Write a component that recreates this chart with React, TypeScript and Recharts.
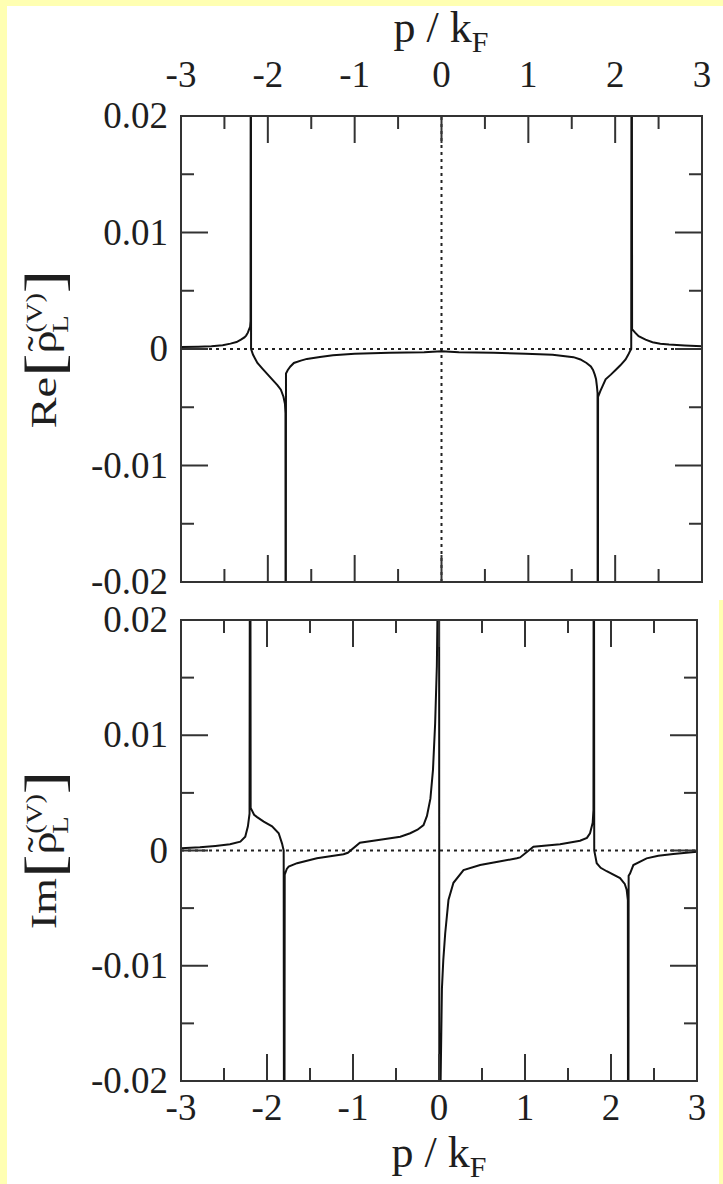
import React from 'react';
import { LineChart, Line, XAxis, YAxis, ReferenceLine } from 'recharts';

// upper panel: Re part, p / kF against value
const reP = [
  -3, -2.8, -2.65, -2.52, -2.43, -2.36, -2.31, -2.27, -2.25, -2.23, -2.215, -2.204, -2.199, -2.196,
  -2.193, -2.17, -2.12, -2.06, -2.0, -1.94, -1.89, -1.85, -1.82, -1.803, -1.797, -1.794,
  -1.791, -1.77, -1.74, -1.7, -1.62, -1.55, -1.4, -1.25, -1.0, -0.6, -0.2, 0, 0.2, 0.6, 0.97, 1.28,
  1.52, 1.6, 1.67, 1.72, 1.745, 1.765, 1.78, 1.79, 1.797, 1.8,
  1.803, 1.83, 1.86, 1.89, 1.95, 2.005, 2.06, 2.12, 2.15, 2.17, 2.185, 2.19,
  2.195, 2.23, 2.27, 2.35, 2.43, 2.52, 2.62, 2.8, 3,
];
const reV = [
  0.00018, 0.0002, 0.00023, 0.00032, 0.00046, 0.0006, 0.0008, 0.001, 0.00115, 0.0014, 0.0017, 0.0019, 0.0024, 0.05,
  0, -0.0005, -0.0012, -0.0017, -0.0022, -0.0027, -0.0031, -0.0035, -0.0041, -0.0047, -0.0055, -0.05,
  -0.0021, -0.0018, -0.0015, -0.0012, -0.001, -0.00085, -0.00068, -0.00054, -0.0004, -0.00032, -0.00028, -0.0002, -0.00028, -0.00032, -0.0004, -0.0005,
  -0.0007, -0.0009, -0.0012, -0.0015, -0.0018, -0.0022, -0.0026, -0.0032, -0.0038, -0.05,
  -0.0041, -0.0036, -0.0031, -0.0026, -0.0022, -0.0018, -0.0014, -0.0009, -0.0005, -0.0002, 0, 0.05,
  0.0017, 0.0014, 0.0011, 0.0008, 0.00058, 0.00045, 0.00038, 0.0003, 0.00023,
];

// lower panel: Im part
const imP = [
  -3, -2.78, -2.6, -2.43, -2.31, -2.253, -2.222, -2.203, -2.196,
  -2.19, -2.15, -2.115, -2.038, -1.941, -1.864, -1.825, -1.806, -1.8,
  -1.794, -1.77, -1.748, -1.65, -1.42, -1.11, -1.06, -0.92, -0.645, -0.45, -0.335, -0.25, -0.18,
  -0.14, -0.1, -0.07, -0.045, -0.025, -0.012, 0,
  0.005, 0.015, 0.034, 0.05, 0.072, 0.11, 0.168, 0.285, 0.478, 0.7, 0.905, 0.943, 1.098, 1.408,
  1.64, 1.72, 1.756, 1.787, 1.796, 1.8,
  1.805, 1.834, 1.88, 1.95, 2.105, 2.16, 2.182, 2.196, 2.2,
  2.205, 2.221, 2.26, 2.414, 2.55, 2.724, 3,
];
const imV = [
  0.0002, 0.00028, 0.0004, 0.00054, 0.00077, 0.0012, 0.0021, 0.0032, 0.05,
  0.0037, 0.0031, 0.0029, 0.0025, 0.0021, 0.0015, 0.0006, 0, -0.05,
  -0.0021, -0.0016, -0.0014, -0.0011, -0.00068, -0.00033, -0.0002, 0.00068, 0.00097, 0.0012, 0.0015, 0.0018, 0.0022,
  0.003, 0.0045, 0.007, 0.011, 0.016, 0.024, 0.06,
  -0.06, -0.022, -0.012, -0.0095, -0.0072, -0.0043, -0.0028, -0.0017, -0.00126, -0.00095, -0.00068, -0.0006, 0.00033, 0.00054,
  0.00085, 0.0011, 0.0015, 0.0024, 0.0035, 0.05,
  0, -0.0011, -0.0015, -0.0018, -0.0024, -0.0029, -0.0034, -0.0043, -0.05,
  -0.0022, -0.002, -0.00126, -0.00068, -0.00045, -0.0003, -0.0001,
];

const xMajor = [-3, -2, -1, 0, 1, 2, 3];
const xMinor = [-2.5, -1.5, -0.5, 0.5, 1.5, 2.5];
const yMajor = [-0.02, -0.01, 0, 0.01, 0.02];
const yMinor = [-0.015, -0.005, 0.005, 0.015];

const xTicks = [...xMajor, ...xMinor].sort((a, b) => a - b);
const yTicks = [...yMajor, ...yMinor].sort((a, b) => a - b);

const reData = reP.map((p, i) => ({ p, v: reV[i] }));
const imData = imP.map((p, i) => ({ p, v: imV[i] }));

const FONT = 'Liberation Serif, Times New Roman, serif';
const INK = '#1e1e1e';
const frame = { stroke: '#333', strokeWidth: 2, strokeLinecap: 'square' as const };

type Side = 'top' | 'bottom' | 'left' | 'right';

// inward tick marks (major/minor) plus optional outside label
const makeTick = (side: Side, labelled: boolean) => (props: any) => {
  const { x, y, payload } = props;
  const v: number = payload.value;
  const horiz = side === 'top' || side === 'bottom';
  const major = (horiz ? xMajor : yMajor).some((m) => Math.abs(m - v) < 1e-9);
  const len = major ? 27 : 13;
  let x2 = x;
  let y2 = y;
  if (side === 'bottom') y2 = y - len;
  if (side === 'top') y2 = y + len;
  if (side === 'left') x2 = x + len;
  if (side === 'right') x2 = x - len;

  let label = null;
  if (labelled && major) {
    const common = { fontFamily: FONT, fontSize: 37, fill: INK };
    if (side === 'bottom') label = <text x={x} y={y + 39} textAnchor="middle" {...common}>{String(v)}</text>;
    if (side === 'top') label = <text x={x} y={y - 29} textAnchor="middle" {...common}>{String(v)}</text>;
    if (side === 'left') label = <text x={x - 13} y={y + 12} textAnchor="end" {...common}>{String(v)}</text>;
  }
  return (
    <g>
      <line x1={x} y1={y} x2={x2} y2={y2} stroke="#333" strokeWidth={2} />
      {label}
    </g>
  );
};

const XTitle = ({ x, y }: { x: number; y: number }) => (
  <text x={x} y={y} textAnchor="middle" fontFamily={FONT} fontSize={44} fill={INK}>
    p / k<tspan fontSize={30} dy={10}>F</tspan>
  </text>
);

// Re[ rho~ _L ^(V) ] written along the left edge
const YTitle = ({ cx, cy, head }: { cx: number; cy: number; head: string }) => (
  <text
    transform={`translate(${cx},${cy}) rotate(-90) scale(1.1,0.85)`}
    textAnchor="middle"
    fontFamily={FONT}
    fontSize={42}
    fill={INK}
  >
    {head}
    <tspan fontSize={64} dy={8}>[</tspan>
    <tspan fontSize={42} dy={-8}>{'\u03c1'}</tspan>
    <tspan fontSize={42} dx={-19} dy={-4}>{'\u02dc'}</tspan>
    <tspan fontSize={26} dx={3} dy={-13}>(V)</tspan>
    <tspan fontSize={26} dx={-36} dy={31}>L</tspan>
    <tspan fontSize={64} dx={20} dy={-6}>]</tspan>
  </text>
);

interface PanelProps {
  data: { p: number; v: number }[];
  height: number;
  margin: { top: number; right: number; bottom: number; left: number };
  topLabels: boolean;
  bottomLabels: boolean;
  zeroX: boolean;
  xTitle: { x: number; y: number };
  yTitle: { cx: number; cy: number; head: string };
}

const Panel = ({ data, height, margin, topLabels, bottomLabels, zeroX, xTitle, yTitle }: PanelProps) => (
  <LineChart width={723} height={height} data={data} margin={margin} style={{ overflow: 'visible' }}>
    <XAxis
      xAxisId="b"
      dataKey="p"
      type="number"
      domain={[-3, 3]}
      allowDataOverflow
      orientation="bottom"
      mirror
      ticks={xTicks}
      interval={0}
      tickSize={0}
      tickMargin={0}
      tickLine={false}
      axisLine={frame}
      tick={makeTick('bottom', bottomLabels)}
      label={bottomLabels ? () => <XTitle {...xTitle} /> : undefined}
    />
    <XAxis
      xAxisId="t"
      dataKey="p"
      type="number"
      domain={[-3, 3]}
      allowDataOverflow
      orientation="top"
      mirror
      ticks={xTicks}
      interval={0}
      tickSize={0}
      tickMargin={0}
      tickLine={false}
      axisLine={frame}
      tick={makeTick('top', topLabels)}
      label={topLabels ? () => <XTitle {...xTitle} /> : undefined}
    />
    <YAxis
      yAxisId="l"
      type="number"
      domain={[-0.02, 0.02]}
      allowDataOverflow
      orientation="left"
      mirror
      ticks={yTicks}
      interval={0}
      tickSize={0}
      tickMargin={0}
      tickLine={false}
      axisLine={frame}
      tick={makeTick('left', true)}
      label={() => <YTitle {...yTitle} />}
    />
    <YAxis
      yAxisId="r"
      type="number"
      domain={[-0.02, 0.02]}
      allowDataOverflow
      orientation="right"
      mirror
      ticks={yTicks}
      interval={0}
      tickSize={0}
      tickMargin={0}
      tickLine={false}
      axisLine={frame}
      tick={makeTick('right', false)}
    />
    <ReferenceLine xAxisId="b" yAxisId="l" y={0} stroke="#222" strokeWidth={2} strokeDasharray="3 4" />
    {zeroX && (
      <ReferenceLine xAxisId="b" yAxisId="l" x={0} stroke="#222" strokeWidth={2} strokeDasharray="3 4" />
    )}
    <Line
      xAxisId="b"
      yAxisId="l"
      dataKey="v"
      type="linear"
      stroke="#111"
      strokeWidth={2}
      dot={false}
      isAnimationActive={false}
    />
  </LineChart>
);

export default function App() {
  return (
    <div style={{ position: 'absolute', left: 0, top: 0, width: 723, height: 1184, background: '#FFFFB2', overflow: 'hidden' }}>
      <div style={{ position: 'absolute', left: 7, top: 6, width: 716, height: 594, background: '#fff' }} />
      <div style={{ position: 'absolute', left: 7, top: 600, width: 712, height: 584, background: '#fff' }} />
      <div style={{ position: 'absolute', left: 0, top: 600 }}>
        <Panel
          data={imData}
          height={584}
          margin={{ top: 20, right: 26, bottom: 103, left: 181 }}
          topLabels={false}
          bottomLabels
          zeroX={false}
          xTitle={{ x: 439, y: 567 }}
          yTitle={{ cx: 56, cy: 250, head: 'Im' }}
        />
      </div>
      <div style={{ position: 'absolute', left: 0, top: 0 }}>
        <Panel
          data={reData}
          height={604}
          margin={{ top: 116, right: 21, bottom: 22, left: 181 }}
          topLabels
          bottomLabels={false}
          zeroX
          xTitle={{ x: 441, y: 42 }}
          yTitle={{ cx: 56, cy: 349, head: 'Re' }}
        />
      </div>
    </div>
  );
}
